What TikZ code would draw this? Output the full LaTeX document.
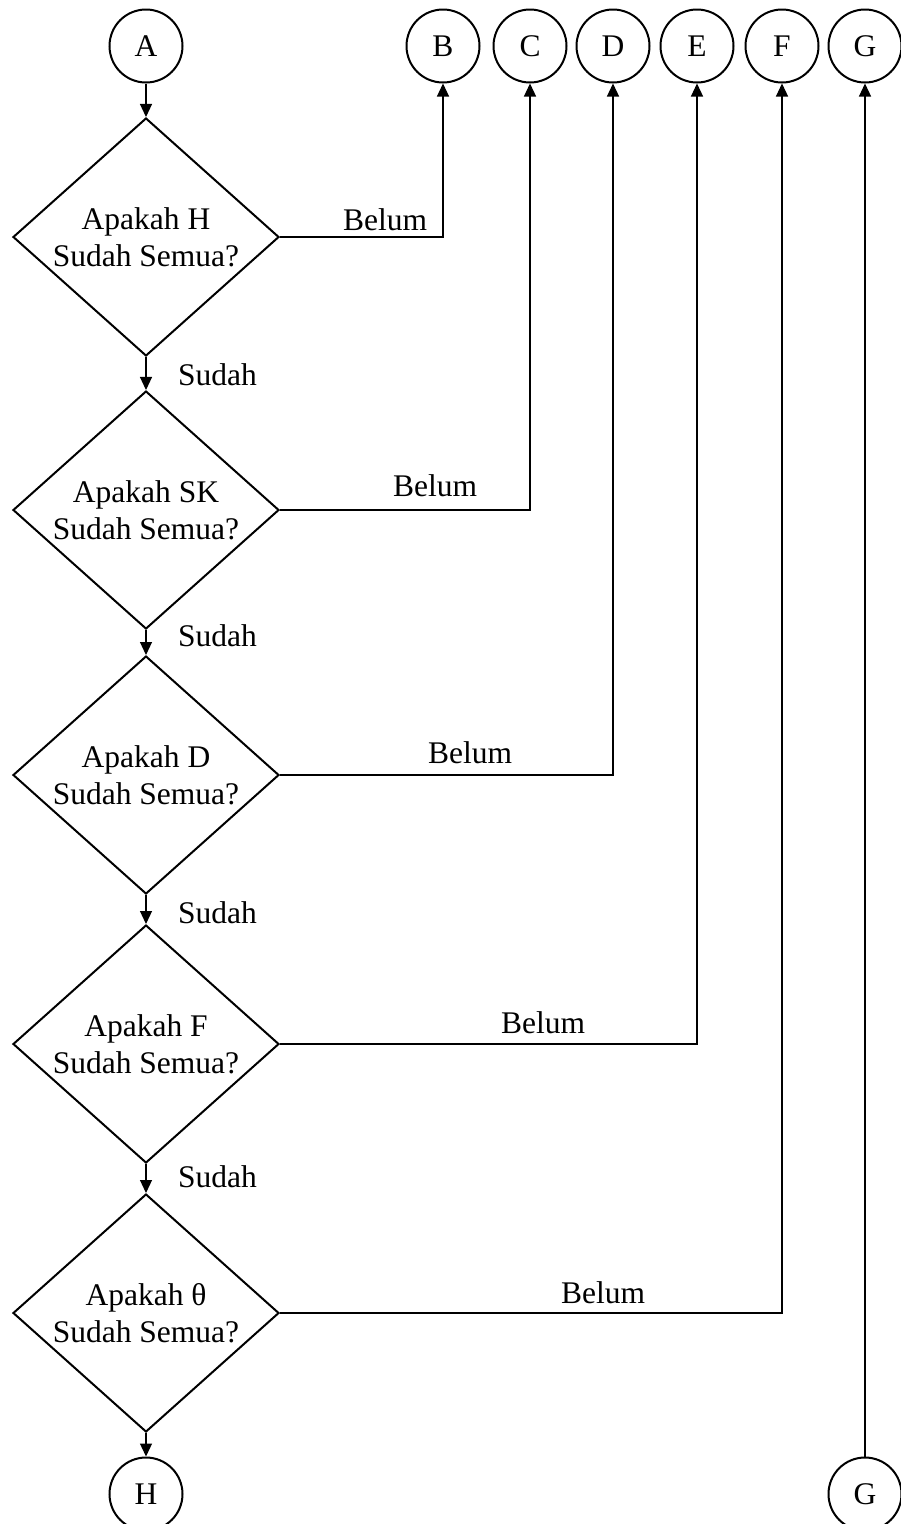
\documentclass[tikz,border=0pt]{standalone}
\usepackage{fontspec}
\setmainfont{Liberation Serif}
\usetikzlibrary{shapes.geometric,arrows.meta}
\begin{document}
\begin{tikzpicture}[x=1pt,y=-1pt,
  every node/.style={font=\fontsize{31.5}{37}\selectfont},
  conn/.style={circle,draw,line width=2pt,minimum size=73pt,inner sep=0pt},
  decision/.style={diamond,draw,line width=2pt,aspect=1.12,inner sep=0pt,
    minimum width=266pt,minimum height=238pt,align=center},
  flow/.style={line width=1.2pt,-{Triangle[length=13pt,width=12pt]}},
  lbl/.style={inner sep=0pt,anchor=base west}]
\useasboundingbox (0,0) rectangle (900,1524);
\node[conn] (A) at (146,46) {A};
\node[conn] (B) at (443,46) {B};
\node[conn] (C) at (530,46) {C};
\node[conn] (D) at (613,46) {D};
\node[conn] (E) at (697,46) {E};
\node[conn] (F) at (782,46) {F};
\node[conn] (G) at (865,46) {G};
\node[decision] (d1) at (146,237) {Apakah H\\Sudah Semua?};
\node[decision] (d2) at (146,510) {Apakah SK\\Sudah Semua?};
\node[decision] (d3) at (146,775) {Apakah D\\Sudah Semua?};
\node[decision] (d4) at (146,1044) {Apakah F\\Sudah Semua?};
\node[decision] (d5) at (146,1313) {Apakah θ\\Sudah Semua?};
\node[conn] (H) at (146,1494) {H};
\node[conn] (G2) at (865,1494) {G};
\draw[flow] (A) -- (d1);
\draw[flow] (d1) -- (d2);
\draw[flow] (d2) -- (d3);
\draw[flow] (d3) -- (d4);
\draw[flow] (d4) -- (d5);
\draw[flow] (d5) -- (H);
\draw[flow] (d1.east) -| (B.south);
\draw[flow] (d2.east) -| (C.south);
\draw[flow] (d3.east) -| (D.south);
\draw[flow] (d4.east) -| (E.south);
\draw[flow] (d5.east) -| (F.south);
\draw[flow] (G2) -- (G);
\node[lbl] (b1) at (343,230) {Belum};
\node[lbl] (b2) at (393,496) {Belum};
\node[lbl] (b3) at (428,763) {Belum};
\node[lbl] (b4) at (501,1033) {Belum};
\node[lbl] (b5) at (561,1303) {Belum};
\node[lbl] (s1) at (178,385) {Sudah};
\node[lbl] (s2) at (178,646) {Sudah};
\node[lbl] (s3) at (178,923) {Sudah};
\node[lbl] (s4) at (178,1187) {Sudah};
\end{tikzpicture}
\end{document}
